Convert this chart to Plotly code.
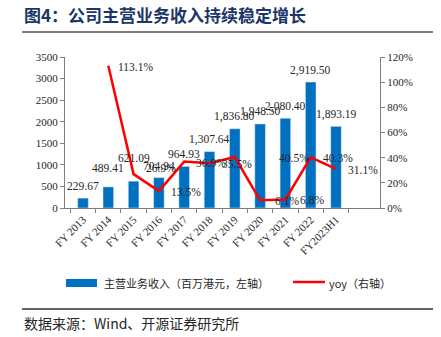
import plotly.graph_objects as go

categories = ["FY 2013", "FY 2014", "FY 2015", "FY 2016", "FY 2017", "FY 2018",
              "FY 2019", "FY 2020", "FY 2021", "FY 2022", "FY2023H1"]
revenue = [229.67, 489.41, 621.09, 704.94, 964.93, 1307.64,
           1836.80, 1948.50, 2080.40, 2919.50, 1893.19]
yoy_cats = categories[1:]
yoy = [1.131, 0.269, 0.135, 0.369, 0.355, 0.405, 0.061, 0.068, 0.403, 0.311]

SERIF = "Liberation Serif, Times New Roman, serif"
CJK = "Noto Sans CJK SC"
BLUE = "#0070C0"
RED = "#FF0000"
TXT = "#262626"

W, H = 441, 337
L, R, T, B = 65, 61, 57, 129
pw, ph = W - L - R, H - T - B


def px(x):
    return (x - L) / pw


def py(y):
    return (H - B - y) / ph


fig = go.Figure()
fig.add_trace(go.Bar(x=categories, y=revenue, marker_color=BLUE, width=0.42,
                     name="主营业务收入（百万港元，左轴）", showlegend=False))
fig.add_trace(go.Scatter(x=yoy_cats, y=yoy, yaxis="y2", mode="lines",
                         line=dict(color=RED, width=2.5), name="yoy（右轴）",
                         showlegend=False))

annotations = []
# bar value labels
bar_lift = {"FY 2014": 19, "FY 2015": 23}
for c, v in zip(categories, revenue):
    annotations.append(dict(x=c, y=v, xref="x", yref="y", text=f"{v:,.2f}",
                            showarrow=False, yanchor="middle",
                            yshift=bar_lift.get(c, 12),
                            font=dict(family=SERIF, size=11.5, color=TXT)))
# yoy labels (placed to the right of each point, as in the original)
yoy_dx = {"FY 2019": 59}
yoy_dy = {"FY 2015": 6}
for c, v in zip(yoy_cats, yoy):
    annotations.append(dict(x=c, y=v, xref="x", yref="y2", text=f"{v*100:.1f}%",
                            showarrow=False, yanchor="middle", xanchor="center",
                            xshift=yoy_dx.get(c, 27), yshift=yoy_dy.get(c, -1),
                            font=dict(family=SERIF, size=11.5, color=TXT)))


def paper_text(text, x, y, size, color=TXT, bold=False):
    return dict(text=f"<b>{text}</b>" if bold else text, x=px(x), y=py(y),
                xref="paper", yref="paper", showarrow=False,
                xanchor="left", yanchor="middle",
                font=dict(family=CJK, size=size, color=color))


annotations.append(paper_text("图4：公司主营业务收入持续稳定增长", 22, 15, 17, "#1B3668", True))
annotations.append(paper_text("主营业务收入（百万港元，左轴）", 102, 283, 11))
annotations.append(paper_text("yoy（右轴）", 327, 283, 11))
annotations.append(paper_text("数据来源：Wind、开源证券研究所", 22, 323, 14))

shapes = [
    dict(type="line", xref="paper", yref="paper", x0=px(22), x1=px(433), y0=py(32), y1=py(32),
         line=dict(color="#7F7F7F", width=2)),
    dict(type="line", xref="paper", yref="paper", x0=px(22), x1=px(433), y0=py(309), y1=py(309),
         line=dict(color="#333333", width=1.5)),
    dict(type="rect", xref="paper", yref="paper", x0=px(66), x1=px(97), y0=py(287), y1=py(279),
         fillcolor=BLUE, line=dict(width=0)),
    dict(type="line", xref="paper", yref="paper", x0=px(293), x1=px(325), y0=py(282), y1=py(282),
         line=dict(color=RED, width=2.5)),
]

fig.update_layout(
    width=W, height=H, margin=dict(l=L, r=R, t=T, b=B),
    paper_bgcolor="white", plot_bgcolor="white",
    showlegend=False,
    annotations=annotations, shapes=shapes,
    font=dict(family=SERIF, size=11, color=TXT),
    xaxis=dict(type="category", tickangle=-45, ticks="outside", ticklen=4,
               tickson="boundaries", showline=True, linecolor="#7F7F7F", linewidth=1,
               tickcolor="#7F7F7F", tickfont=dict(family=SERIF, size=11, color=TXT),
               showgrid=False),
    yaxis=dict(range=[0, 3500], dtick=500, ticks="outside", ticklen=4,
               showline=True, linecolor="#7F7F7F", tickcolor="#7F7F7F",
               showgrid=False, zeroline=False,
               tickfont=dict(family=SERIF, size=11, color=TXT)),
    yaxis2=dict(range=[0, 1.2], dtick=0.2, tickformat=".0%", overlaying="y", side="right",
                ticks="outside", ticklen=4, showline=True, linecolor="#7F7F7F",
                tickcolor="#7F7F7F", showgrid=False, zeroline=False,
                tickfont=dict(family=SERIF, size=11, color=TXT)),
)

fig.write_html("out.html")
